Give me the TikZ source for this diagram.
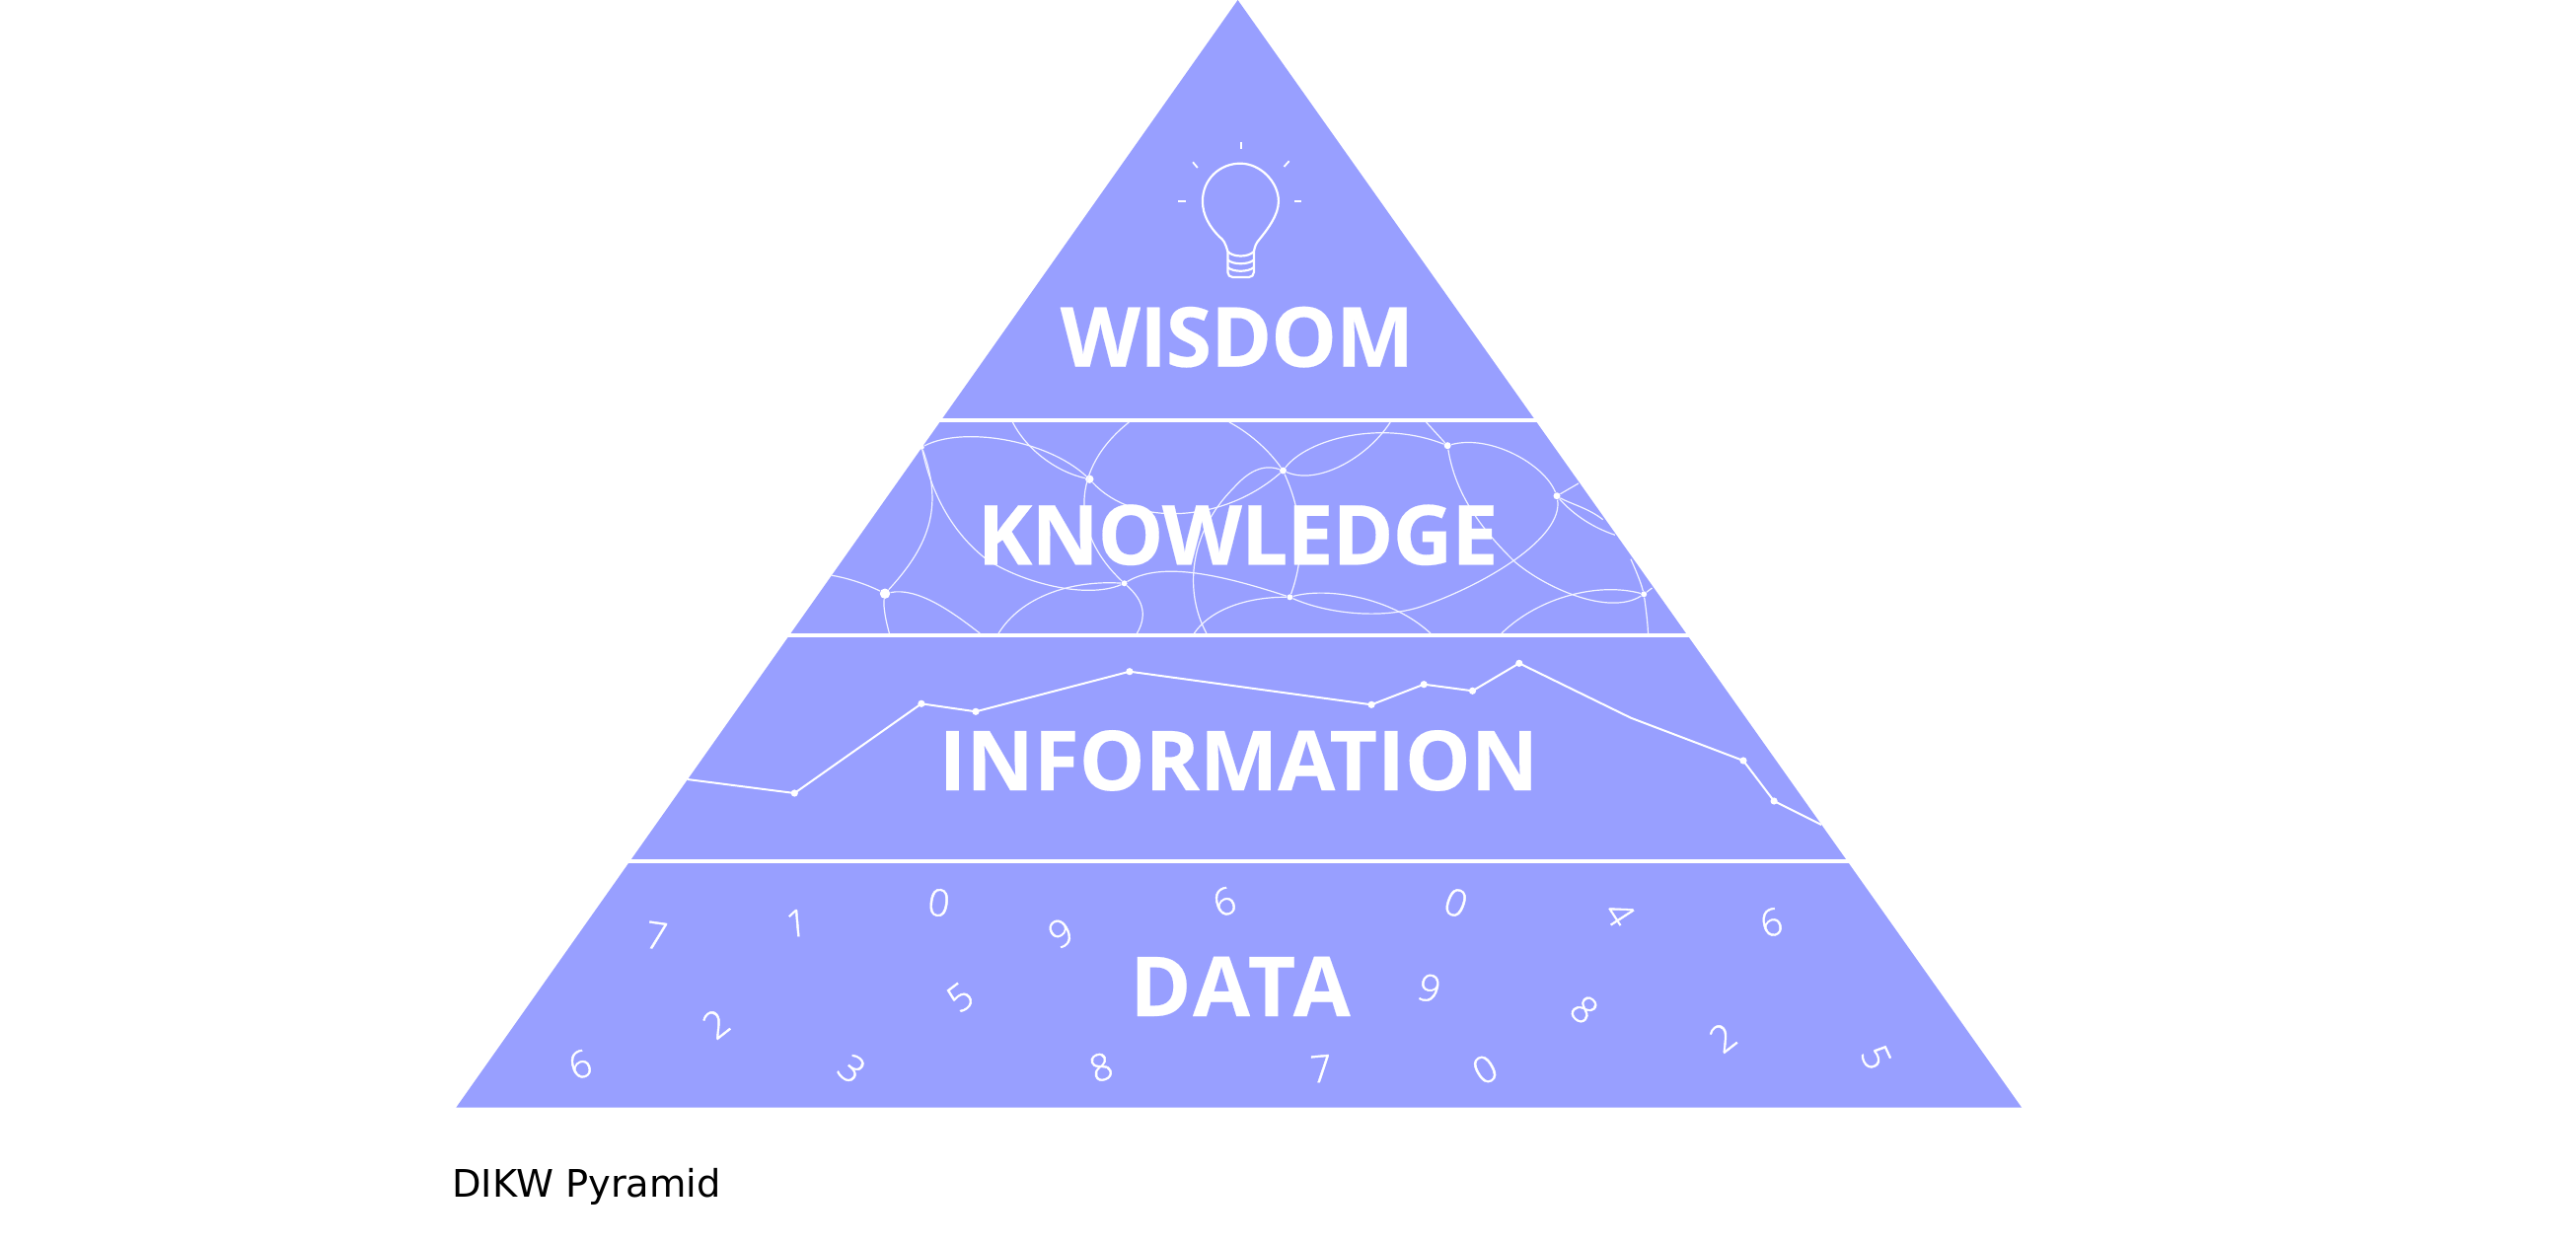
\documentclass[tikz,border=0pt]{standalone}
\usepackage{fontspec}
\usepackage{xcolor}
\newfontfamily\bandfont{Open Sans}[BoldFeatures={FakeBold=0.25}]
\newfontfamily\digitfont{Open Sans Light}[FakeBold=1.2]
\newfontfamily\captionfont{DejaVu Sans}
\definecolor{bandblue}{HTML}{989FFF}
\usetikzlibrary{positioning}

\begin{document}
\begin{tikzpicture}[
        x=0.5pt, y=-0.5pt,
        bandlabel/.style={anchor=base, inner sep=0pt, text=white, font=\bandfont\bfseries\fontsize{42}{50}\selectfont},
        digit/.style={inner sep=0pt, text=white, font=\digitfont\fontsize{19}{23}\selectfont},
        band/.style={white, line width=2pt},
        bulb/.style={white, line width=1.1pt},
        ray/.style={white, line width=0.9pt},
        net/.style={white!88!bandblue, line width=0.6pt},
        netdot/.style={circle, fill=white, inner sep=0pt, minimum size=#1},
        netdot/.default=3.5pt,
        trend/.style={white, line width=1pt},
        trenddot/.style={circle, fill=white, inner sep=0pt, minimum size=3.6pt}
        ]
        \useasboundingbox (0,0) rectangle (2611,1262);

        % Pyramid
        \coordinate (apex) at (1254.6,0);
        \coordinate (baseleft) at (462.4,1122.5);
        \coordinate (baseright) at (2049,1122.5);
        \fill[bandblue] (apex) -- (baseleft) -- (baseright) -- cycle;
        \draw[band] (940,426) -- (1570,426);
        \draw[band] (785,644) -- (1725,644);
        \draw[band] (625,872.7) -- (1885,872.7);

        % Bulb
        \draw[bulb] (1244.4,255) .. controls (1242,246) and (1240,243) .. (1236,240)
            .. controls (1226,230) and (1218.9,218) .. (1218.9,204)
            .. controls (1218.9,182) and (1236,165.7) .. (1257.1,165.7)
            .. controls (1278,165.7) and (1295.9,185) .. (1295.9,204)
            .. controls (1295.9,218) and (1285,232) .. (1277,242)
            .. controls (1272.5,247) and (1272,250) .. (1270.9,255);
        \draw[bulb, rounded corners=2.5pt] (1244.4,255) -- (1244.4,281) -- (1270.9,281) -- (1270.9,255);
        \draw[bulb] (1244.4,255) .. controls (1250,261) and (1265,261) .. (1270.9,255);
        \draw[bulb] (1244.4,263.5) .. controls (1250,268.5) and (1265,268.5) .. (1270.9,263.5);
        \draw[bulb] (1244.4,271) .. controls (1250,276) and (1265,276) .. (1270.9,271);
        \draw[ray] (1257.6,144) -- (1257.6,151);
        \draw[ray] (1209,164.3) -- (1213.8,170);
        \draw[ray] (1306.6,163.3) -- (1301.5,169);
        \draw[ray] (1194.4,204) -- (1202,204);
        \draw[ray] (1312,204) -- (1319.4,204);

        % Network
        \node[netdot=2.5pt] (ka) at (934.3,453.3) {};
        \node[netdot=4.2pt] (kb) at (1104.3,485.7) {};
        \node[netdot] (kc) at (1300.5,477) {};
        \node[netdot=3pt] (kd) at (1139.6,591.3) {};
        \node[netdot=3pt] (ke) at (1307.4,605.3) {};
        \node[netdot=5.2pt] (kf) at (897,601.7) {};
        \node[netdot] (kg) at (1467.2,451.7) {};
        \node[netdot] (kh) at (1578,502.7) {};
        \node[netdot=3pt] (ki) at (1666.2,602.3) {};
        \draw[net] (ka) .. controls (975,432) and (1060,445) .. (kb);
        \draw[net] (1026.4,428) .. controls (1040,455) and (1070,478) .. (kb);
        \draw[net] (1144.3,428) .. controls (1085,475) and (1085,540) .. (kd);
        \draw[net] (kd) .. controls (1155,605) and (1165,620) .. (1152.5,642);
        \draw[net] (kb) .. controls (1150,535) and (1240,530) .. (kc);
        \draw[net] (1246,428) .. controls (1265,438) and (1285,455) .. (kc);
        \draw[net] (kc) .. controls (1322,525) and (1322,565) .. (ke);
        \draw[net] (kc) .. controls (1280,470) and (1265,478) .. (1250,495) .. controls (1205,540) and (1200,600) .. (1222.9,642);
        \draw[net] (ka) .. controls (955,510) and (945,550) .. (kf);
        \draw[net] (ka) .. controls (944,500) and (965,540) .. (1000,567) .. controls (1035,590) and (1100,608) .. (kd);
        \draw[net] (843.2,583.3) .. controls (860,586) and (880,593) .. (kf);
        \draw[net] (kf) .. controls (930,595) and (965,620) .. (993.2,642);
        \draw[net] (kf) .. controls (895,615) and (898,630) .. (901.4,642);
        \draw[net] (1012.1,642) .. controls (1035,605) and (1085,588) .. (kd);
        \draw[net] (kd) .. controls (1175,570) and (1230,580) .. (ke);
        \draw[net] (ke) .. controls (1260,605) and (1225,620) .. (1210.4,642);
        \draw[net] (ke) .. controls (1345,622) and (1400,628) .. (1440,615) .. controls (1505,593) and (1585,545) .. (kh);
        \draw[net] (ke) .. controls (1345,595) and (1410,605) .. (1450,642);
        \draw[net] (kc) .. controls (1335,492) and (1385,465) .. (1409.2,428);
        \draw[net] (kc) .. controls (1325,445) and (1400,425) .. (kg);
        \draw[net] (kg) -- (1445.6,428);
        \draw[net] (kg) .. controls (1510,440) and (1565,470) .. (kh);
        \draw[net] (kg) .. controls (1475,500) and (1500,535) .. (1535.2,569.3) .. controls (1565,595) and (1630,625) .. (ki);
        \draw[net] (kh) -- (1599.9,490);
        \draw[net] (kh) .. controls (1590,510) and (1610,515) .. (1624.7,526.7);
        \draw[net] (kh) .. controls (1595,522) and (1615,535) .. (1637,542.3);
        \draw[net] (ki) .. controls (1620,590) and (1560,605) .. (1521.9,642);
        \draw[net] (1652.9,566.7) .. controls (1658,578) and (1663,590) .. (ki);
        \draw[net] (ki) .. controls (1668,615) and (1670,630) .. (1670.5,642);
        \draw[net] (ki) -- (1674.5,596);

        % Trend line
        \coordinate (ta) at (696.7,790);
        \node[trenddot] (tb) at (805.3,804) {};
        \node[trenddot] (tc) at (933.9,713.3) {};
        \node[trenddot] (td) at (989,721.3) {};
        \node[trenddot] (te) at (1144.9,680.7) {};
        \node[trenddot] (tf) at (1390.1,714.3) {};
        \node[trenddot] (tg) at (1443.2,693.7) {};
        \node[trenddot] (th) at (1492.5,700.3) {};
        \node[trenddot] (ti) at (1539.8,672.3) {};
        \coordinate (tj) at (1653,727.7);
        \node[trenddot] (tk) at (1767,771) {};
        \node[trenddot] (tl) at (1798.1,812) {};
        \coordinate (tm) at (1846.2,836);
        \draw[trend] (ta) -- (tb.center) -- (tc.center) -- (td.center) -- (te.center) -- (tf.center) -- (tg.center) -- (th.center) -- (ti.center) -- (tj) -- (tk.center) -- (tl.center) -- (tm);

        % Digits
        \node[digit, rotate=-8] (dseven) at (665.5,948.3) {7};
        \node[digit, rotate=5] (done) at (807.3,935.7) {1};
        \node[digit, rotate=-8] (dzero) at (951.7,915) {0};
        \node[digit, rotate=30] (dnine) at (1075.2,945.7) {9};
        \node[digit, rotate=20] (dsix) at (1241,914) {6};
        \node[digit, rotate=-20] (dzerob) at (1475.7,915) {0};
        \node[digit, rotate=-57] (dfour) at (1641.7,926) {4};
        \node[digit, rotate=15] (dsixb) at (1795.4,935) {6};
        \node[digit, rotate=38] (dtwo) at (725.7,1037.7) {2};
        \node[digit, rotate=37] (dfive) at (973.2,1011) {5};
        \node[digit, rotate=-15] (dnineb) at (1448.9,1001.7) {9};
        \node[digit, rotate=-43] (deight) at (1605.8,1023.3) {8};
        \node[digit, rotate=38] (dtwob) at (1746.2,1051.7) {2};
        \node[digit, rotate=20] (dsixc) at (588,1079) {6};
        \node[digit, rotate=-40] (dthree) at (863.5,1083.3) {3};
        \node[digit, rotate=20] (deightb) at (1116,1081.7) {8};
        \node[digit, rotate=5] (dsevenb) at (1339,1083.3) {7};
        \node[digit, rotate=30] (dzeroc) at (1505.1,1084) {0};
        \node[digit, rotate=-65] (dfiveb) at (1901.5,1071.7) {5};

        % Labels
        \node[bandlabel] (wisdom) at (1254,371.7) {\addfontfeature{LetterSpace=-1.2}WISDOM};
        \node[bandlabel] (knowledge) at (1254.5,572.3) {\addfontfeature{LetterSpace=-1.2}KNOWLEDGE};
        \node[bandlabel] (information) at (1255.3,801) {INFORMATION};
        \node[bandlabel] (data) at (1257,1030) {\addfontfeature{LetterSpace=4}DATA};
        \node[anchor=base west, inner sep=0pt, font=\captionfont\fontsize{19.2}{23}\selectfont] (caption) at (458,1213.3) {DIKW Pyramid};
\end{tikzpicture}
\end{document}
